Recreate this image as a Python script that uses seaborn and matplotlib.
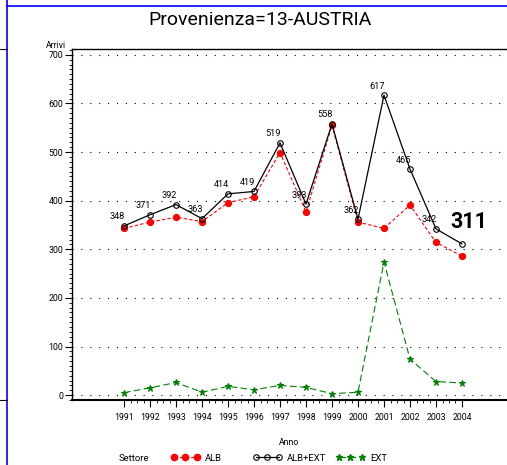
import matplotlib
matplotlib.use("Agg")
import matplotlib.pyplot as plt
import seaborn as sns
from matplotlib.lines import Line2D
from matplotlib.ticker import FixedLocator, MultipleLocator

# data
years = [1991, 1992, 1993, 1994, 1995, 1996, 1997, 1998, 1999, 2000, 2001, 2002, 2003, 2004]
alb = [343, 356, 366, 357, 396, 408, 499, 377, 555, 356, 343, 391, 314, 286]
alb_ext = [348, 371, 392, 363, 414, 419, 519, 393, 558, 362, 617, 465, 342, 311]
ext = [5, 15, 26, 6, 18, 11, 20, 16, 3, 6, 274, 74, 28, 25]
y_ticks = [0, 100, 200, 300, 400, 500, 600, 700]

sns.set_style("white")
plt.rcParams["font.family"] = ["Roboto", "DejaVu Sans"]
plt.rcParams.update({"text.color": "black", "axes.labelcolor": "black",
                     "xtick.color": "black", "ytick.color": "black"})

W, H = 507, 465
SMALL = 6.3
fig = plt.figure(figsize=(W / 100, H / 100), dpi=100)
ax = fig.add_axes([72 / W, 1 - 400 / H, 1 - 72 / W, (400 - 49) / H])

sns.lineplot(x=years, y=alb, ax=ax, color="red", marker="o", markersize=4.5,
             markeredgecolor="red", linestyle=(0, (3, 2)), linewidth=0.8)
sns.lineplot(x=years, y=alb_ext, ax=ax, color="black", marker="o", markersize=4,
             markerfacecolor="none", markeredgecolor="black", markeredgewidth=0.8,
             linewidth=0.9)
sns.lineplot(x=years, y=ext, ax=ax, color="green", marker="*", markersize=5,
             markeredgecolor="green", linestyle=(0, (6, 3)), linewidth=0.8)

# value labels on the total series
for x, v in zip(years[:-1], alb_ext[:-1]):
    ax.annotate(str(v), (x, v), xytext=(-7, 9), textcoords="offset pixels",
                ha="center", va="center", fontsize=SMALL + 0.3)
ax.annotate(str(alb_ext[-1]), (years[-1], alb_ext[-1]), xytext=(7, 22),
            textcoords="offset pixels", ha="center", va="center",
            fontsize=15.5, fontweight="bold")

ax.set_xlim(1989, 1991 + (W - 124) / 26)
ax.set_ylim(-10, 712)
ax.set_yticks(y_ticks)
ax.yaxis.set_minor_locator(MultipleLocator(10))
ax.set_xticks(years)
ax.xaxis.set_minor_locator(FixedLocator(
    [y + q / 4 for y in years[:-1] for q in (1, 2, 3)]))
ax.tick_params(axis="both", which="both", bottom=True, left=True, top=False, right=False)
ax.tick_params(axis="both", which="major", direction="out", length=5, width=0.8,
               labelsize=SMALL, pad=1.5)
ax.tick_params(axis="both", which="minor", direction="out", length=2.5, width=0.6)
ax.tick_params(axis="x", which="major", pad=4)

ax.yaxis.grid(True, which="major", linestyle=(0, (1, 7)), color="black", linewidth=0.8)
ax.xaxis.grid(False)
for side in ["left", "top", "bottom"]:
    ax.spines[side].set_color("black")
    ax.spines[side].set_linewidth(1.0)
ax.spines["bottom"].set_linewidth(1.5)
ax.spines["right"].set_visible(False)

ax.set_xlabel("Anno", fontsize=SMALL, labelpad=12)
ax.set_ylabel("")
fig.text(66 / W, 1 - 46 / H, "Arrivi", ha="right", va="center", fontsize=SMALL)
fig.text(260 / W, 1 - 20 / H, "Provenienza=13-AUSTRIA", ha="center", va="center",
         fontsize=14)

# legend row
fig.text(119 / W, 1 - 458 / H, "Settore", ha="left", va="center", fontsize=SMALL + 0.5)
entries = [
    ("ALB", 171, dict(color="red", marker="o", markersize=4.5, linestyle=(0, (3, 2)),
                      linewidth=0.8)),
    ("ALB+EXT", 253, dict(color="black", marker="o", markersize=4, markerfacecolor="none",
                          markeredgewidth=0.8, linewidth=0.9)),
    ("EXT", 336, dict(color="green", marker="*", markersize=5, linestyle=(0, (6, 3)),
                      linewidth=0.8)),
]
for label, xpix, style in entries:
    handle = Line2D([], [], **style)
    fig.legend([handle], [label], loc="center left",
               bbox_to_anchor=(xpix / W, 1 - 458 / H), frameon=False,
               fontsize=SMALL + 0.5, numpoints=3, handlelength=3.0, handletextpad=0.6,
               borderpad=0, borderaxespad=0)

# page frame lines
fig.add_artist(Line2D([7 / W, 7 / W], [0, 1], color="blue", linewidth=1.2))
fig.add_artist(Line2D([7 / W, 1], [1 - 6 / H, 1 - 6 / H], color="blue", linewidth=1.2))
fig.add_artist(Line2D([0, 7 / W], [1 - 49 / H, 1 - 49 / H], color="black", linewidth=0.8))
fig.add_artist(Line2D([0, 7 / W], [1 - 400 / H, 1 - 400 / H], color="black", linewidth=0.8))

fig.savefig("out.png", dpi=100)
